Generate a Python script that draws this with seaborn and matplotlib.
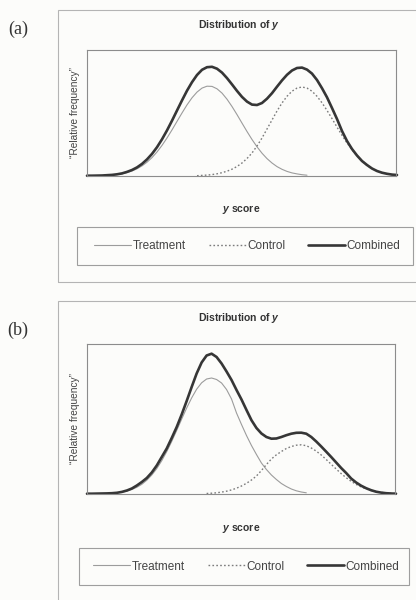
import matplotlib
matplotlib.use("Agg")
import matplotlib.pyplot as plt
import seaborn as sns
import pandas as pd
from matplotlib.patches import Rectangle

# ---------------- data ----------------
# x positions: arbitrary "y score" units across the plot width, sampled every 0.5
score_all = [0.5 * i for i in range(63)]            # 0 .. 31
score_treat = [0.5 * i for i in range(45)]          # 0 .. 22
score_ctrl_a = [11 + 0.5 * i for i in range(41)]    # 11 .. 31
score_ctrl_b = [12 + 0.5 * i for i in range(39)]    # 12 .. 31

treatment_a = [0.1, 0.1, 0.2, 0.3, 0.6, 0.9, 1.4, 2.2, 3.4, 5.0,
               7.2, 10.1, 13.8, 18.4, 24.0, 30.6, 38.0, 46.1, 54.6, 63.0,
               71.1, 78.2, 83.9, 87.9, 89.8, 89.6, 87.2, 82.9, 76.8, 69.5,
               61.4, 52.9, 44.5, 36.5, 29.2, 22.8, 17.4, 13.0, 9.4, 6.7,
               4.6, 3.1, 2.1, 1.3, 0.8]
control_a = [0.3, 0.6, 0.9, 1.4, 2.2, 3.3, 4.8, 6.8, 9.5, 13.0,
             17.5, 23.0, 30.0, 38.0, 47.0, 56.0, 65.0, 73.0, 79.7, 84.8,
             87.9, 89.0, 87.9, 84.8, 79.7, 73.2, 65.6, 57.4, 48.9, 40.7,
             33.1, 26.3, 20.3, 15.3, 10.5, 7.3, 5.0, 3.3, 2.1, 1.3, 0.8]
combined_a = [0.3, 0.3, 0.4, 0.5, 0.8, 1.1, 1.7, 2.6, 4.1, 6.0,
              8.6, 12.1, 16.6, 22.1, 28.8, 36.7, 45.6, 55.3, 65.5, 75.6,
              85.3, 93.8, 101.0, 106.2, 108.8, 109.2, 107.3, 103.4, 97.9, 91.6,
              85.1, 79.1, 74.4, 71.4, 71.0, 73.0, 77.3, 82.8, 89.3, 95.6,
              101.2, 105.5, 108.0, 108.4, 106.4, 102.4, 96.0, 87.8, 78.7, 68.0,
              57.0, 45.0, 35.0, 27.0, 20.5, 15.0, 11.0, 7.5, 5.0, 3.3,
              2.2, 1.4, 1.0]

treatment_b = [0.0, 0.1, 0.1, 0.2, 0.4, 0.7, 1.2, 1.9, 2.9, 4.5,
               6.7, 9.7, 13.8, 19.0, 25.4, 33.3, 42.4, 52.6, 63.6, 74.9,
               86.0, 96.1, 104.8, 111.2, 115.0, 116.0, 114.5, 111.0, 104.5, 95.0,
               81.0, 69.5, 58.5, 48.5, 39.5, 31.0, 24.5, 19.0, 14.5, 10.5,
               7.5, 5.0, 3.2, 2.0, 1.2]
control_b = [0.5, 0.8, 1.2, 1.9, 2.8, 4.1, 5.8, 8.0, 10.7, 14.0,
             18.0, 23.5, 29.5, 35.0, 39.2, 42.5, 45.5, 47.5, 48.8, 49.2,
             48.3, 46.0, 42.9, 39.0, 34.5, 29.7, 25.0, 20.4, 16.3, 12.7,
             9.6, 7.1, 5.1, 3.6, 2.4, 1.6, 1.0, 0.7, 0.4]
combined_b = [0.3, 0.3, 0.4, 0.5, 0.6, 0.8, 1.2, 2.1, 3.5, 5.5,
              8.5, 12.0, 16.0, 21.5, 28.5, 37.0, 45.5, 56.0, 67.0, 79.5,
              93.0, 107.0, 120.5, 131.5, 138.5, 140.3, 137.0, 130.5, 122.5, 114.0,
              104.0, 94.5, 84.0, 73.8, 66.0, 60.5, 57.0, 55.3, 55.5, 57.0,
              58.8, 60.3, 61.2, 61.3, 60.3, 57.0, 52.5, 47.5, 42.3, 37.0,
              31.5, 26.0, 21.0, 15.5, 11.5, 8.3, 5.8, 3.8, 2.3, 1.4,
              0.8, 0.5, 0.3]

series_names = ["Treatment", "Control", "Combined"]
panel_labels = ["(a)", "(b)"]
title_text = "Distribution of $y$"
xlabel_text = "$y$ score"
ylabel_text = "\u201cRelative frequency\u201d"

# ---------------- styling ----------------
sns.set_style("white")
plt.rcParams['font.family'] = ['Liberation Sans', 'DejaVu Sans']
plt.rcParams['mathtext.fontset'] = 'custom'
plt.rcParams['mathtext.it'] = 'Liberation Sans:italic:bold'
plt.rcParams['mathtext.rm'] = 'Liberation Sans:bold'

styles = {
    "Treatment": dict(color="#9c9c9c", lw=0.8, ls="-"),
    "Control": dict(color="#7c7c7c", lw=1.0, ls=(0, (1.2, 1.6))),
    "Combined": dict(color="#363636", lw=1.9, ls="-"),
}

W, H = 416, 600
fig = plt.figure(figsize=(W / 100, H / 100), dpi=100)
fig.patch.set_facecolor("#fcfcfa")


def fx(px):
    return px / W


def fy(py):
    return 1 - py / H


panels = [
    dict(label=panel_labels[0], label_xy=(18, 29),
         outer=(58, 10, 418, 282),
         ax=(87, 50, 396, 176), ymax=126,
         title_y=25, xlabel_y=209, ylabel_x=75,
         leg_box=(77, 227, 413, 265), leg_c=(247.5, 246),
         data=[(score_treat, treatment_a), (score_ctrl_a, control_a),
               (score_all, combined_a)]),
    dict(label=panel_labels[1], label_xy=(18, 330),
         outer=(58, 301, 418, 610),
         ax=(87, 344, 395, 494), ymax=150,
         title_y=318, xlabel_y=528.5, ylabel_x=75,
         leg_box=(79, 548, 409, 585), leg_c=(246.5, 566.5),
         data=[(score_treat, treatment_b), (score_ctrl_b, control_b),
               (score_all, combined_b)]),
]

for p in panels:
    # outer frame
    x0, y0, x1, y1 = p["outer"]
    fig.add_artist(Rectangle((fx(x0), fy(y1)), fx(x1) - fx(x0), fy(y0) - fy(y1),
                             transform=fig.transFigure, fill=False,
                             ec="#b4b4b4", lw=0.8))
    # panel letter
    fig.text(fx(p["label_xy"][0]), fy(p["label_xy"][1]), p["label"],
             family=["Liberation Serif", "DejaVu Serif"], fontsize=13,
             ha="center", va="center", color="#333333")

    ax_l, ax_t, ax_r, ax_b = p["ax"]
    ax = fig.add_axes([fx(ax_l), fy(ax_b), fx(ax_r) - fx(ax_l), fy(ax_t) - fy(ax_b)])
    ax.set_facecolor("none")
    handles = []
    for name, (xs, ys) in zip(series_names, p["data"]):
        st = styles[name]
        df = pd.DataFrame({"score": xs, "freq": ys})
        sns.lineplot(data=df, x="score", y="freq", ax=ax, color=st["color"],
                     linewidth=st["lw"], estimator=None, sort=False, legend=False)
        line = ax.lines[-1]
        line.set_linestyle(st["ls"])
        line.set_label(name)
        line.set_clip_on(False)
        line.set_solid_joinstyle("round")
        handles.append(line)
    if ax.get_legend() is not None:
        ax.get_legend().remove()
    ax.set_xlim(0, 30.9)
    ax.set_ylim(0, p["ymax"])
    ax.set_xticks([])
    ax.set_yticks([])
    ax.set_xlabel("")
    ax.set_ylabel("")
    for s in ax.spines.values():
        s.set_color("#8c8c8c")
        s.set_linewidth(0.8)

    # texts
    fig.text(fx(239), fy(p["title_y"]), title_text, fontsize=7.5,
             fontweight="bold", ha="center", va="center", color="#333333")
    fig.text(fx(241), fy(p["xlabel_y"]), xlabel_text, fontsize=7.5,
             fontweight="bold", ha="center", va="center", color="#333333")
    fig.text(fx(p["ylabel_x"]), fy((ax_t + ax_b) / 2), ylabel_text, fontsize=7.3,
             rotation=90, ha="center", va="center", color="#444444")

    # legend frame + legend
    lx0, ly0, lx1, ly1 = p["leg_box"]
    fig.add_artist(Rectangle((fx(lx0), fy(ly1)), fx(lx1) - fx(lx0), fy(ly0) - fy(ly1),
                             transform=fig.transFigure, fill=False,
                             ec="#9e9e9e", lw=0.8))
    fig.legend(handles=handles, labels=series_names, loc="center",
               bbox_to_anchor=(fx(p["leg_c"][0]), fy(p["leg_c"][1])),
               bbox_transform=fig.transFigure, ncol=3, frameon=False,
               fontsize=8.5, handlelength=3.1, handletextpad=0.15,
               columnspacing=1.95, labelcolor="#444444")

fig.savefig("out.png", dpi=100, facecolor=fig.get_facecolor())
